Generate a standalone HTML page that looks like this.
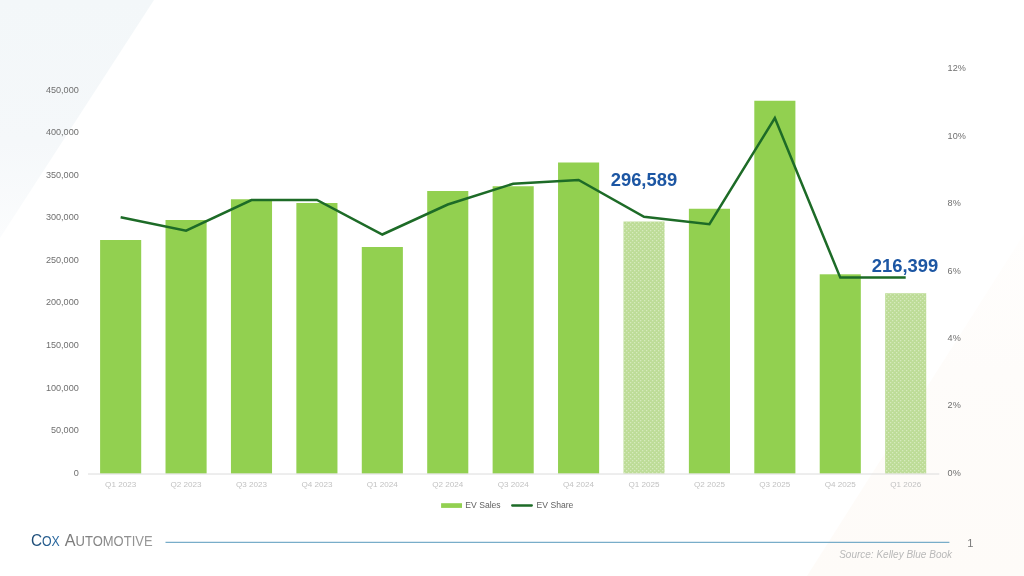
<!DOCTYPE html>
<html lang="en">
<head>
<meta charset="utf-8">
<title>EV Sales and EV Share</title>
<style>
html,body{margin:0;padding:0;background:#fff;}
body{width:1024px;height:576px;overflow:hidden;font-family:"Liberation Sans",Arial,sans-serif;}
svg{display:block;}
text{font-family:"Liberation Sans",Arial,sans-serif;}
.ax{font-size:9.1px;fill:#6f6f6f;}
.cat{font-size:8.1px;fill:#c2c2c2;}
.leg{font-size:8.6px;fill:#5f5f5f;}
.big{font-size:18.4px;font-weight:bold;fill:#1c56a3;}
</style>
</head>
<body>
<svg width="1024" height="576" viewBox="0 0 1024 576">
<defs>
<linearGradient id="gTL" x1="0" y1="0" x2="0" y2="1">
<stop offset="0" stop-color="#f3f7f9"/>
<stop offset="0.6" stop-color="#f5f8fa"/>
<stop offset="1" stop-color="#fbfcfd"/>
</linearGradient>
<linearGradient id="gBR" x1="0" y1="0" x2="0" y2="1">
<stop offset="0" stop-color="#fffefd"/>
<stop offset="0.4" stop-color="#fefcfa"/>
<stop offset="1" stop-color="#fefbf8"/>
</linearGradient>
<linearGradient id="gCox" gradientUnits="userSpaceOnUse" x1="31" y1="0" x2="60" y2="0">
<stop offset="0" stop-color="#1d4a73"/>
<stop offset="1" stop-color="#2f6fa8"/>
</linearGradient>
<linearGradient id="gAuto" gradientUnits="userSpaceOnUse" x1="65" y1="0" x2="153" y2="0">
<stop offset="0" stop-color="#7a7a7a"/>
<stop offset="1" stop-color="#9a9a9a"/>
</linearGradient>
<pattern id="hatch" width="4" height="4" patternUnits="userSpaceOnUse">
<rect width="4" height="4" fill="#bddc97"/>
<rect x="0" y="0" width="1.3" height="1.3" fill="#d6eabd"/>
<rect x="2" y="2" width="1.3" height="1.3" fill="#d6eabd"/>
</pattern>
</defs>
<rect width="1024" height="576" fill="#ffffff"/>
<polygon points="0,0 154,0 0,238" fill="url(#gTL)"/>
<polygon points="1024,576 807,576 1024,234" fill="url(#gBR)"/>

<g>
<rect x="100.10" y="240.00" width="41.1" height="233.60" fill="#92d050"/>
<rect x="165.52" y="220.00" width="41.1" height="253.60" fill="#92d050"/>
<rect x="230.94" y="199.25" width="41.1" height="274.35" fill="#92d050"/>
<rect x="296.36" y="203.00" width="41.1" height="270.60" fill="#92d050"/>
<rect x="361.78" y="247.00" width="41.1" height="226.60" fill="#92d050"/>
<rect x="427.20" y="191.00" width="41.1" height="282.60" fill="#92d050"/>
<rect x="492.62" y="186.25" width="41.1" height="287.35" fill="#92d050"/>
<rect x="558.04" y="162.50" width="41.1" height="311.10" fill="#92d050"/>
<rect x="623.46" y="221.50" width="41.1" height="252.10" fill="url(#hatch)"/>
<rect x="688.88" y="208.75" width="41.1" height="264.85" fill="#92d050"/>
<rect x="754.30" y="100.75" width="41.1" height="372.85" fill="#92d050"/>
<rect x="819.72" y="274.30" width="41.1" height="199.30" fill="#92d050"/>
<rect x="885.14" y="293.20" width="41.1" height="180.40" fill="url(#hatch)"/>
</g>
<line x1="88" y1="474" x2="939.3" y2="474" stroke="#dcdcdc" stroke-width="1"/>
<polyline points="120.65,217.25 186.07,230.75 251.49,200.00 316.91,200.00 382.33,234.50 447.75,204.50 513.17,183.75 578.59,180.00 644.01,216.75 709.43,224.25 774.85,118.00 840.27,277.60 905.69,277.60" fill="none" stroke="#1d6b27" stroke-width="2.5" stroke-linejoin="miter" stroke-linecap="butt"/>
<text class="ax" x="78.8" y="475.70" text-anchor="end">0</text>
<text class="ax" x="78.8" y="433.13" text-anchor="end">50,000</text>
<text class="ax" x="78.8" y="390.56" text-anchor="end">100,000</text>
<text class="ax" x="78.8" y="347.99" text-anchor="end">150,000</text>
<text class="ax" x="78.8" y="305.42" text-anchor="end">200,000</text>
<text class="ax" x="78.8" y="262.85" text-anchor="end">250,000</text>
<text class="ax" x="78.8" y="220.28" text-anchor="end">300,000</text>
<text class="ax" x="78.8" y="177.71" text-anchor="end">350,000</text>
<text class="ax" x="78.8" y="135.14" text-anchor="end">400,000</text>
<text class="ax" x="78.8" y="92.57" text-anchor="end">450,000</text>
<text class="ax" x="947.6" y="475.90">0%</text>
<text class="ax" x="947.6" y="408.45">2%</text>
<text class="ax" x="947.6" y="341.00">4%</text>
<text class="ax" x="947.6" y="273.55">6%</text>
<text class="ax" x="947.6" y="206.10">8%</text>
<text class="ax" x="947.6" y="138.65">10%</text>
<text class="ax" x="947.6" y="71.20">12%</text>
<text class="cat" x="120.65" y="487.1" text-anchor="middle">Q1 2023</text>
<text class="cat" x="186.07" y="487.1" text-anchor="middle">Q2 2023</text>
<text class="cat" x="251.49" y="487.1" text-anchor="middle">Q3 2023</text>
<text class="cat" x="316.91" y="487.1" text-anchor="middle">Q4 2023</text>
<text class="cat" x="382.33" y="487.1" text-anchor="middle">Q1 2024</text>
<text class="cat" x="447.75" y="487.1" text-anchor="middle">Q2 2024</text>
<text class="cat" x="513.17" y="487.1" text-anchor="middle">Q3 2024</text>
<text class="cat" x="578.59" y="487.1" text-anchor="middle">Q4 2024</text>
<text class="cat" x="644.01" y="487.1" text-anchor="middle">Q1 2025</text>
<text class="cat" x="709.43" y="487.1" text-anchor="middle">Q2 2025</text>
<text class="cat" x="774.85" y="487.1" text-anchor="middle">Q3 2025</text>
<text class="cat" x="840.27" y="487.1" text-anchor="middle">Q4 2025</text>
<text class="cat" x="905.69" y="487.1" text-anchor="middle">Q1 2026</text>
<text class="big" x="610.7" y="185.6">296,589</text>
<text class="big" x="871.8" y="271.8">216,399</text>
<rect x="441.1" y="503.2" width="20.9" height="4.7" fill="#92d050"/>
<text class="leg" x="465.3" y="508">EV Sales</text>
<line x1="512.2" y1="505.5" x2="531.8" y2="505.5" stroke="#1d6b27" stroke-width="2.3" stroke-linecap="round"/>
<text class="leg" x="536.6" y="508">EV Share</text>
<text x="30.9" y="546.3" fill="url(#gCox)" font-size="17.2" textLength="28.9" lengthAdjust="spacingAndGlyphs"><tspan>C</tspan><tspan font-size="13.8">OX</tspan></text>
<text x="64.8" y="546.3" fill="url(#gAuto)" font-size="17.2" textLength="87.8" lengthAdjust="spacingAndGlyphs"><tspan>A</tspan><tspan font-size="13.8">UTOMOTIVE</tspan></text>
<line x1="165.5" y1="542.4" x2="949.4" y2="542.4" stroke="#78adc9" stroke-width="1.2"/>
<text x="967.3" y="546.5" font-size="11.2" fill="#7a7a7a">1</text>
<text x="952" y="557.8" font-size="10" font-style="italic" fill="#b9b9b9" text-anchor="end">Source: Kelley Blue Book</text>
</svg>
</body>
</html>
